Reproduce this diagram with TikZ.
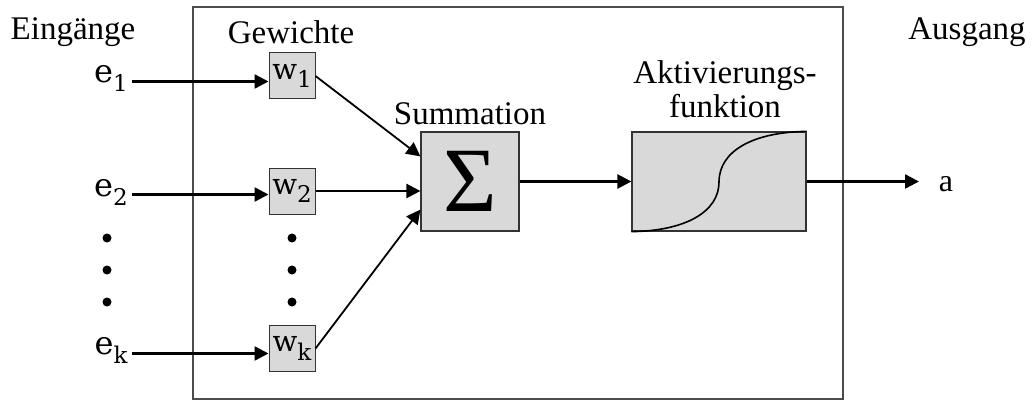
\documentclass[tikz,border=0pt]{standalone}
\usepackage{fontspec}
\setmainfont{Liberation Serif}
\newfontfamily\symfont{DejaVu Serif}
\usetikzlibrary{arrows.meta}
\newcommand\idx[2]{{\symfont #1\raisebox{-0.28em}{\fontsize{23}{25}\selectfont #2}}}
\begin{document}
\begin{tikzpicture}[x=1pt,y=-1pt,
  lbl/.style={font=\fontsize{33}{37}\selectfont, inner sep=0pt},
  var/.style={font=\fontsize{32}{34}\selectfont, inner sep=0pt},
  wbox/.style={draw=black!80, fill=black!15, line width=1pt, minimum width=46pt, minimum height=46pt, inner sep=0pt, font=\fontsize{29}{30}\selectfont},
  bigbox/.style={draw=black!80, fill=black!15, line width=1.2pt, minimum height=99pt, inner sep=0pt},
  link/.style={line width=2.5pt, -{Triangle[length=14pt,width=14pt]}},
  diag/.style={line width=1.8pt, -{Triangle[length=14pt,width=14pt]}},
  dot/.style={circle, fill=black, inner sep=0pt, minimum size=9pt}]
\useasboundingbox (0,0) rectangle (1033,401);
% frame of the neuron
\draw[black!70, line width=1.4pt] (193,7) rectangle (843,399);
% headings
\node[lbl] (hin) at (73,32) {Eingänge};
\node[lbl] (hw) at (291,32) {Gewichte};
\node[lbl] (hout) at (967,32) {Ausgang};
\node[lbl] (hsum) at (470,114) {Summation};
\node[lbl, align=center] (hact) at (725,89) {Aktivierungs-\\[-3pt]funktion};
% inputs
\node[var] (e1) at (111,78.5) {\idx{e}{1}};
\node[var] (e2) at (111,192.5) {\idx{e}{2}};
\node[var] (ek) at (111,350.5) {\idx{e}{k}};
% weights
\node[wbox] (w1) at (292,76) {\idx{w}{1}};
\node[wbox] (w2) at (292,191) {\idx{w}{2}};
\node[wbox] (wk) at (292,348.5) {\idx{w}{k}};
% dots
\foreach \y/\n in {238/1,270/2,302/3} {
  \node[dot] (ld\n) at (107,\y) {};
  \node[dot] (rd\n) at (292,\y) {};
}
% summation and activation blocks
\node[bigbox, minimum width=98pt, font=\fontsize{92}{92}\selectfont] (sum) at (470,181.5) {\raisebox{-4pt}{Σ}};
\node[bigbox, minimum width=174pt] (act) at (719,181.5) {};
\draw[line width=1.6pt] (act.south west) .. controls (685,231) and (719,212) .. (719,182)
  .. controls (719,150) and (755,132) .. (act.north east);
% output
\node[var] (out) at (946,184) {a};
\coordinate (outend) at (919,181.5);
% connectors
\draw[link] (e1.east) ++(4pt,-3pt) coordinate (s1) -- (s1 -| w1.west);
\draw[link] (e2.east) ++(4pt,-2pt) coordinate (s2) -- (s2 -| w2.west);
\draw[link] (ek.east) ++(4pt,-3pt) coordinate (sk) -- (sk -| wk.west);
\draw[diag] (w1.east) -- ([yshift=-25pt]sum.north west);
\draw[link] (w2.east) -- (w2.east -| sum.west);
\draw[diag] (wk.east) -- ([yshift=22pt]sum.south west);
\draw[link] (sum.east) -- (act.west);
\draw[link] (act.east) -- (outend);
\end{tikzpicture}
\end{document}
